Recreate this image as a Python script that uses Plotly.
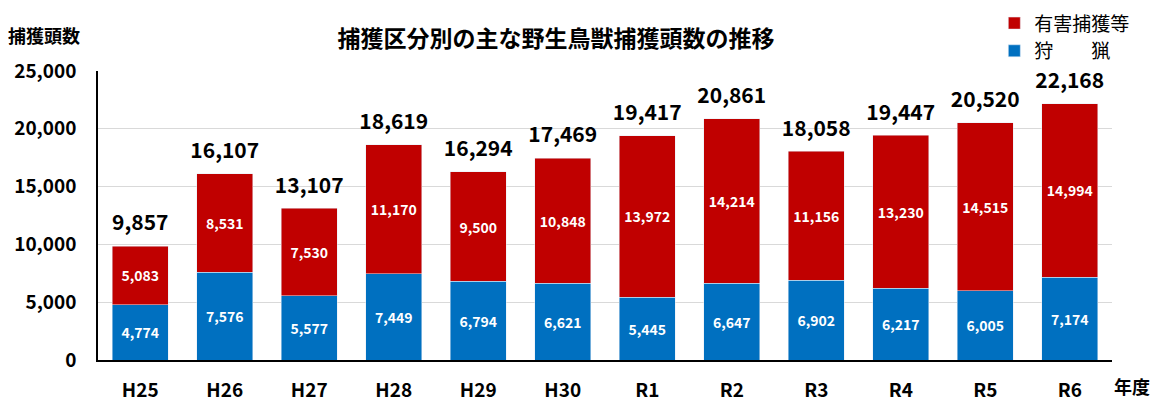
import plotly.graph_objects as go

years = ["H25", "H26", "H27", "H28", "H29", "H30", "R1", "R2", "R3", "R4", "R5", "R6"]
hunting = [4774, 7576, 5577, 7449, 6794, 6621, 5445, 6647, 6902, 6217, 6005, 7174]
nuisance = [5083, 8531, 7530, 11170, 9500, 10848, 13972, 14214, 11156, 13230, 14515, 14994]
totals = [a + b for a, b in zip(hunting, nuisance)]

FONT = "Noto Sans CJK JP"
BLUE = "#0070C0"
RED = "#C00000"

fig = go.Figure()
fig.add_trace(go.Bar(
    x=years, y=hunting, name="狩　　猟", marker_color=BLUE, legendgroup="h",
    text=[f"{v:,}" for v in hunting], textposition="inside", insidetextanchor="middle",
    textangle=0, constraintext="none",
    textfont=dict(color="white", size=14, family=FONT, weight="bold"),
))
fig.add_trace(go.Bar(
    x=years, y=nuisance, name="有害捕獲等", marker_color=RED, legendgroup="n",
    text=[f"{v:,}" for v in nuisance], textposition="inside", insidetextanchor="middle",
    textangle=0, constraintext="none",
    textfont=dict(color="white", size=14, family=FONT, weight="bold"),
))
fig.add_trace(go.Scatter(
    x=years, y=totals, mode="markers+text", text=[f"{v:,}" for v in totals],
    marker=dict(size=15, color="rgba(0,0,0,0)"), hoverinfo="skip",
    textposition="top center", showlegend=False, cliponaxis=False,
    textfont=dict(color="black", size=21, family=FONT, weight="bold"),
))

# page body adds 8px offset, so margins are shifted by 8px
fig.update_layout(
    width=1151, height=393,
    barmode="stack", bargap=0.34,
    plot_bgcolor="white", paper_bgcolor="white",
    margin=dict(l=90, r=47, t=63, b=41, autoexpand=False),
    font=dict(family=FONT, color="black"),
    title=dict(text="<b>捕獲区分別の主な野生鳥獣捕獲頭数の推移</b>", x=0.476, xanchor="center",
               y=1 - 31 / 393, yanchor="middle", font=dict(size=23, family=FONT)),
    legend=dict(x=1.023, xanchor="right", y=1.231, yanchor="top", traceorder="reversed",
                font=dict(size=19, family=FONT), itemwidth=30, tracegroupgap=13,
                bgcolor="rgba(0,0,0,0)"),
    yaxis=dict(range=[0, 25000], dtick=5000, tickformat=",", showgrid=True, gridcolor="#D9D9D9",
               showline=True, linecolor="black", linewidth=1.5, ticks="", ticklabelstandoff=16,
               tickfont=dict(size=19, family=FONT, weight="bold"), zeroline=False),
    xaxis=dict(range=[-0.5, len(years) - 0.5], showline=True, linecolor="black", linewidth=1.5,
               ticks="", ticklabelstandoff=12,
               tickfont=dict(size=19, family=FONT, weight="bold")),
    annotations=[
        dict(text="<b>捕獲頭数</b>", x=-0.053, y=1.125, xref="paper", yref="paper",
             xanchor="center", yanchor="middle", showarrow=False, font=dict(size=18, family=FONT)),
        dict(text="<b>年度</b>", x=1.0, y=-0.09, xref="paper", yref="paper", xanchor="left",
             yanchor="middle", showarrow=False, font=dict(size=18, family=FONT)),
    ],
)

fig.write_html("out.html")
